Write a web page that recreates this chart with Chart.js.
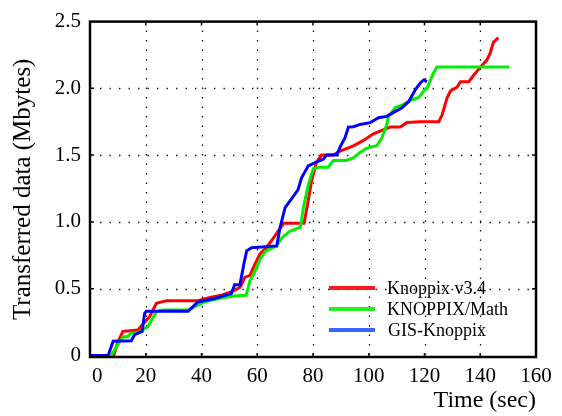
<!DOCTYPE html>
<html>
<head>
<meta charset="utf-8">
<title>Transferred data over time</title>
<script src="https://cdn.jsdelivr.net/npm/chart.js@4/dist/chart.umd.min.js"></script>
<style>
  html, body { margin: 0; padding: 0; background: #fff; }
  #wrap { width: 562px; height: 416px; }
</style>
</head>
<body>
<div id="wrap"><canvas id="chart" width="562" height="416"></canvas></div>
<script>
// Series: elapsed time (s) and cumulative transferred data (MB)
const seriesNames = ['Knoppix v3.4', 'KNOPPIX/Math', 'GIS-Knoppix'];

const knoppixTime = [0, 8.5, 10, 11.8, 17.2, 18.4, 21.4, 23.8, 27.4, 38.7, 42.3, 47, 50.6, 53.8, 55.6, 57.4, 59.2, 61, 63.4, 65.5, 67.5, 69.5, 76.8, 78.3, 79.5, 81.3, 83.1, 87.3, 89.7, 94.5, 98.1, 101.7, 104.1, 107.7, 111.3, 113.7, 118.5, 125.1, 126.3, 128.1, 129.3, 131.7, 132.9, 135.9, 137.7, 140.5, 142.3, 143.5, 144.7, 146.5];
const knoppixMB   = [0, 0, 0.10, 0.18, 0.19, 0.22, 0.29, 0.39, 0.41, 0.41, 0.43, 0.45, 0.475, 0.51, 0.586, 0.60, 0.685, 0.76, 0.81, 0.87, 0.93, 0.99, 0.99, 1.16, 1.31, 1.45, 1.50, 1.50, 1.53, 1.57, 1.61, 1.66, 1.68, 1.71, 1.71, 1.745, 1.75, 1.75, 1.80, 1.93, 1.98, 2.01, 2.05, 2.05, 2.10, 2.17, 2.21, 2.26, 2.345, 2.38];

const mathTime = [0, 7.6, 10, 11.8, 13.6, 14.5, 17, 20.8, 23.8, 26, 35.2, 37.5, 41, 47, 51.9, 56, 57.4, 59, 61, 63, 67, 68.8, 71.7, 75.5, 76.5, 78.3, 80.1, 82.5, 85.5, 87.3, 92, 94.5, 96.9, 98.7, 100.5, 102.9, 104.7, 106.5, 107.1, 109.5, 112.5, 115.5, 117.9, 119.7, 120.9, 122.1, 123.3, 124.5, 150.4];
const mathMB   = [0, 0, 0.08, 0.14, 0.14, 0.167, 0.17, 0.216, 0.327, 0.34, 0.34, 0.364, 0.40, 0.43, 0.445, 0.45, 0.56, 0.62, 0.72, 0.78, 0.82, 0.88, 0.93, 0.96, 1.10, 1.275, 1.40, 1.41, 1.41, 1.46, 1.46, 1.48, 1.52, 1.546, 1.56, 1.57, 1.63, 1.73, 1.79, 1.855, 1.88, 1.915, 1.93, 1.98, 2.00, 2.06, 2.12, 2.16, 2.16];

const gisTime = [0, 6.5, 8.3, 14.8, 16, 18.7, 19.6, 20.2, 35.2, 38.7, 44.7, 50.7, 51.9, 53.8, 55.2, 56.2, 58, 67, 68.2, 70, 71.7, 74.6, 75.9, 78.3, 81.3, 83.7, 84.9, 88.5, 89.7, 91.5, 92.7, 94.5, 96.9, 100.5, 103.5, 106.5, 108.9, 111.9, 114.3, 116.7, 118.5, 119.7, 120.9];
const gisMB   = [0, 0, 0.106, 0.11, 0.155, 0.18, 0.315, 0.33, 0.33, 0.40, 0.426, 0.463, 0.53, 0.53, 0.685, 0.783, 0.807, 0.82, 0.96, 1.107, 1.156, 1.24, 1.33, 1.42, 1.45, 1.47, 1.50, 1.50, 1.56, 1.63, 1.71, 1.713, 1.73, 1.743, 1.78, 1.79, 1.82, 1.855, 1.90, 1.99, 2.04, 2.063, 2.05];

// Axis ticks
const timeTicks = [0, 20, 40, 60, 80, 100, 120, 140, 160];
const mbTicks = [0, 0.5, 1.0, 1.5, 2.0, 2.5];

const lineColors = ['#ff0000', '#00ee00', '#0000ff'];
const legendColors = ['#ff1a1a', '#22ee22', '#3a66ff'];
const serif = "'Liberation Serif', 'Times New Roman', serif";

function toPoints(xs, ys) {
  return xs.map((x, i) => ({ x: x, y: ys[i] }));
}

// Dotted grid, boxed frame with inward tick marks, and an in-plot legend
const framePlugin = {
  id: 'frame',
  beforeDatasetsDraw(chart) {
    const { ctx, chartArea: a, scales: { x, y } } = chart;
    ctx.save();
    ctx.strokeStyle = '#111';
    ctx.lineWidth = 1.3;
    ctx.setLineDash([1.4, 8.1]);
    timeTicks.slice(1, -1).forEach(t => {
      const px = Math.round(x.getPixelForValue(t)) + 0.5;
      ctx.beginPath();
      ctx.moveTo(px, a.top + 9);
      ctx.lineTo(px, a.bottom);
      ctx.stroke();
    });
    mbTicks.slice(1, -1).forEach(v => {
      const py = Math.round(y.getPixelForValue(v)) + 0.5;
      ctx.beginPath();
      ctx.moveTo(a.left + 10, py);
      ctx.lineTo(a.right, py);
      ctx.stroke();
    });
    ctx.restore();
  },
  afterDatasetsDraw(chart) {
    const { ctx, chartArea: a, scales: { x, y } } = chart;
    ctx.save();
    ctx.strokeStyle = '#000';
    ctx.lineWidth = 1.5;
    timeTicks.slice(1, -1).forEach(t => {
      const px = x.getPixelForValue(t);
      ctx.beginPath();
      ctx.moveTo(px, a.bottom); ctx.lineTo(px, a.bottom - 4);
      ctx.moveTo(px, a.top); ctx.lineTo(px, a.top + 4);
      ctx.stroke();
    });
    mbTicks.slice(1, -1).forEach(v => {
      const py = y.getPixelForValue(v);
      ctx.beginPath();
      ctx.moveTo(a.left, py); ctx.lineTo(a.left + 4, py);
      ctx.moveTo(a.right, py); ctx.lineTo(a.right - 4, py);
      ctx.stroke();
    });
    ctx.lineWidth = 2.5;
    ctx.strokeRect(a.left, a.top, a.right - a.left, a.bottom - a.top);

    // legend
    const lx0 = 329, lx1 = 375, tx = 387;
    const rows = [288, 309, 330];
    ctx.lineWidth = 4;
    ctx.font = '18px ' + serif;
    ctx.textBaseline = 'middle';
    ctx.fillStyle = '#000';
    seriesNames.forEach((name, i) => {
      ctx.strokeStyle = legendColors[i];
      ctx.beginPath();
      ctx.moveTo(lx0, rows[i]);
      ctx.lineTo(lx1, rows[i]);
      ctx.stroke();
      ctx.fillText(name, tx + (i === 2 ? 1 : 0), rows[i] + 1);
    });
    ctx.restore();
  }
};

const datasetStyle = { pointRadius: 0, borderWidth: 3, fill: false, tension: 0 };

new Chart(document.getElementById('chart'), {
  type: 'line',
  data: {
    datasets: [
      Object.assign({ label: seriesNames[0], data: toPoints(knoppixTime, knoppixMB), borderColor: lineColors[0], order: 2 }, datasetStyle),
      Object.assign({ label: seriesNames[1], data: toPoints(mathTime, mathMB), borderColor: lineColors[1], order: 1 }, datasetStyle),
      Object.assign({ label: seriesNames[2], data: toPoints(gisTime, gisMB), borderColor: lineColors[2], order: 0 }, datasetStyle)
    ]
  },
  options: {
    responsive: false,
    animation: false,
    devicePixelRatio: 1,
    layout: { padding: { top: 17, right: 26, left: 0, bottom: 0 } },
    plugins: { legend: { display: false }, tooltip: { enabled: false } },
    scales: {
      x: {
        type: 'linear',
        min: 0,
        max: 160,
        afterBuildTicks: s => { s.ticks = timeTicks.map(v => ({ value: v })); },
        afterFit: s => { s.height = 59; },
        grid: { display: false, drawTicks: false },
        border: { display: false },
        ticks: {
          color: '#000', padding: 7, maxRotation: 0, font: { family: serif, size: 21 },
          // the first label sits a little inside the frame corner
          callback: v => (v === 0 ? '\u2002\u20090' : String(v))
        },
        title: { display: true, text: 'Time (sec)', align: 'end', color: '#000', font: { family: serif, size: 24 }, padding: { top: 0, bottom: 1 } }
      },
      y: {
        type: 'linear',
        // a hair below zero so the zero-level segments stay visible above the frame
        min: -0.012,
        max: 2.5,
        afterBuildTicks: s => { s.ticks = mbTicks.map(v => ({ value: v })); },
        afterFit: s => { s.width = 90; },
        grid: { display: false, drawTicks: false },
        border: { display: false },
        ticks: {
          color: '#000', padding: 9, font: { family: serif, size: 21 },
          callback: v => (v === 0 ? '0' : v.toFixed(1))
        },
        title: { display: true, text: 'Transferred data (Mbytes)', color: '#000', font: { family: serif, size: 25 }, padding: { top: 8, bottom: 0 } }
      }
    }
  },
  plugins: [framePlugin]
});
</script>
</body>
</html>
